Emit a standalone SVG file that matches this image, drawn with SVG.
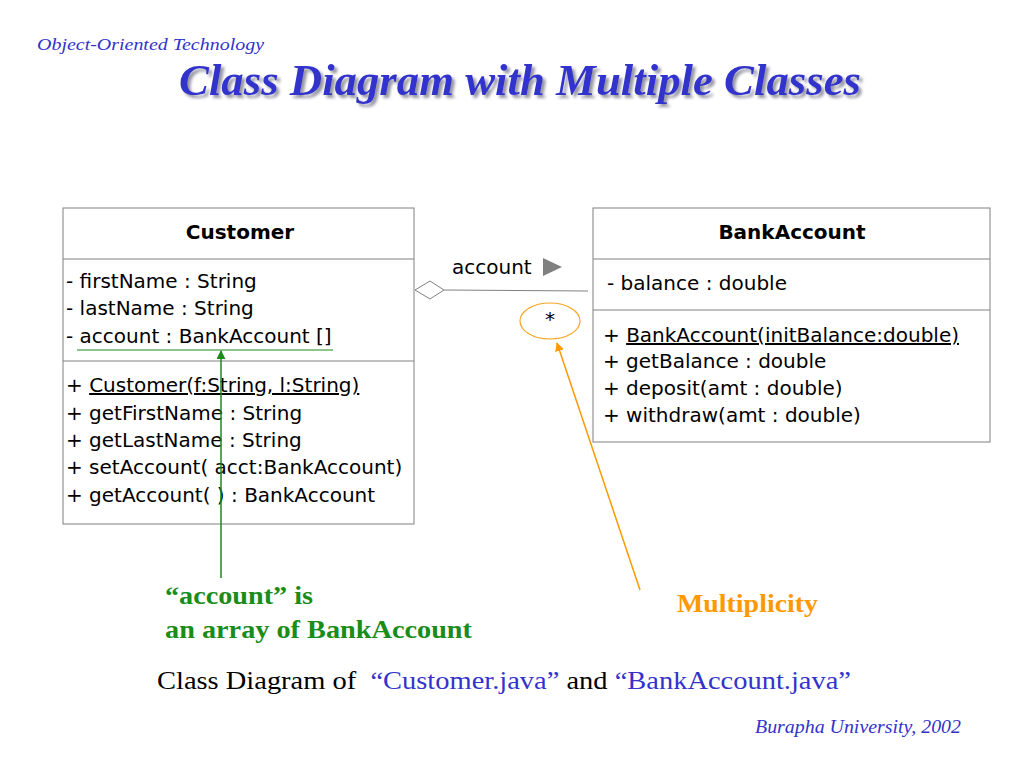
<svg xmlns="http://www.w3.org/2000/svg" width="1024" height="768" viewBox="0 0 1024 768">
<defs>
<style>
.box{fill:#fff;stroke:#808080;stroke-width:1}
.div{stroke:#808080;stroke-width:1}
.uml{font-family:"DejaVu Sans","Liberation Sans",sans-serif;font-size:20px;fill:#000}
.bold{font-weight:bold;text-anchor:middle}
.serif{font-family:"Liberation Serif","Times New Roman",serif}
.blue{fill:#3333cc}
</style>
<filter id="shadow" x="-5%" y="-30%" width="110%" height="160%"><feDropShadow dx="3" dy="3" stdDeviation="1.5" flood-color="#8a8a99" flood-opacity="0.9"/></filter>
<marker id="arrG" viewBox="0 0 10 10" refX="9" refY="5" markerWidth="6" markerHeight="6" orient="auto-start-reverse"><path d="M0,0 L10,5 L0,10 z" fill="#1a8c1a"/></marker>
<marker id="arrO" viewBox="0 0 10 10" refX="9" refY="5" markerWidth="6" markerHeight="6" orient="auto-start-reverse"><path d="M0,0 L10,5 L0,10 z" fill="#ff9900"/></marker>
</defs>
<rect width="1024" height="768" fill="#fff"/>
<text x="37" y="50" class="serif blue" font-style="italic" font-size="17" textLength="227" lengthAdjust="spacingAndGlyphs">Object-Oriented Technology</text>
<text x="179" y="95" class="serif blue" font-weight="bold" font-style="italic" font-size="44" textLength="682" lengthAdjust="spacingAndGlyphs" filter="url(#shadow)">Class Diagram with Multiple Classes</text>
<g id="customer">
<rect class="box" x="63" y="208" width="351" height="316"/>
<line class="div" x1="63" y1="259" x2="414" y2="259"/>
<line class="div" x1="63" y1="361" x2="414" y2="361"/>
<text class="uml bold" x="240" y="239">Customer</text>
<text class="uml" x="66" y="288">- firstName : String</text>
<text class="uml" x="66" y="315">- lastName : String</text>
<text class="uml" x="66" y="343">- account : BankAccount []</text>
<text class="uml" x="66" y="392">+  <tspan text-decoration="underline">Customer(f:String, l:String)</tspan></text>
<text class="uml" x="66" y="420">+ getFirstName : String</text>
<text class="uml" x="66" y="447">+ getLastName : String</text>
<text class="uml" x="66" y="474">+ setAccount( acct:BankAccount)</text>
<text class="uml" x="66" y="502">+ getAccount( ) : BankAccount</text>
</g>
<g id="bankaccount">
<rect class="box" x="593" y="208" width="397" height="234"/>
<line class="div" x1="593" y1="259" x2="990" y2="259"/>
<line class="div" x1="593" y1="310" x2="990" y2="310"/>
<text class="uml bold" x="792" y="239">BankAccount</text>
<text class="uml" x="607" y="290">- balance : double</text>
<text class="uml" x="603" y="342">+  <tspan text-decoration="underline">BankAccount(initBalance:double)</tspan></text>
<text class="uml" x="603" y="368">+ getBalance : double</text>
<text class="uml" x="603" y="395">+ deposit(amt : double)</text>
<text class="uml" x="603" y="422">+ withdraw(amt : double)</text>
</g>
<g id="connectors">
<line x1="444" y1="290" x2="588" y2="291" stroke="#808080" stroke-width="1"/>
<polygon points="415,290 430,281 444,290 430,299" fill="#fff" stroke="#808080" stroke-width="1"/>
<text class="uml" x="452" y="274">account</text>
<polygon points="543,258 562,267 543,276" fill="#808080"/>
<ellipse cx="550" cy="321" rx="30" ry="18" fill="none" stroke="#f5a623" stroke-width="1.2"/>
<text class="uml" x="550" y="326" text-anchor="middle" font-size="16">*</text>
<line x1="77" y1="350" x2="333" y2="350" stroke="#1a8c1a" stroke-width="1.2"/>
<line x1="221" y1="578" x2="221" y2="351" stroke="#1a8c1a" stroke-width="1.5" marker-end="url(#arrG)"/>
<line x1="640" y1="590" x2="557" y2="343" stroke="#ff9900" stroke-width="1.5" marker-end="url(#arrO)"/>
</g>
<text x="165" y="604" class="serif" font-weight="bold" font-size="26" fill="#1a8c1a" textLength="148" lengthAdjust="spacingAndGlyphs">“account” is</text>
<text x="165" y="638" class="serif" font-weight="bold" font-size="26" fill="#1a8c1a" textLength="307" lengthAdjust="spacingAndGlyphs">an array of BankAccount</text>
<text x="677" y="612" class="serif" font-weight="bold" font-size="26" fill="#ff9900" textLength="141" lengthAdjust="spacingAndGlyphs">Multiplicity</text>
<text x="157" y="689" class="serif" font-size="26" fill="#000" xml:space="preserve" textLength="694" lengthAdjust="spacingAndGlyphs">Class Diagram of  <tspan class="blue">“Customer.java”</tspan> and <tspan class="blue">“BankAccount.java”</tspan></text>
<text x="755" y="733" class="serif blue" font-style="italic" font-size="19" textLength="206" lengthAdjust="spacingAndGlyphs">Burapha University, 2002</text>
</svg>
